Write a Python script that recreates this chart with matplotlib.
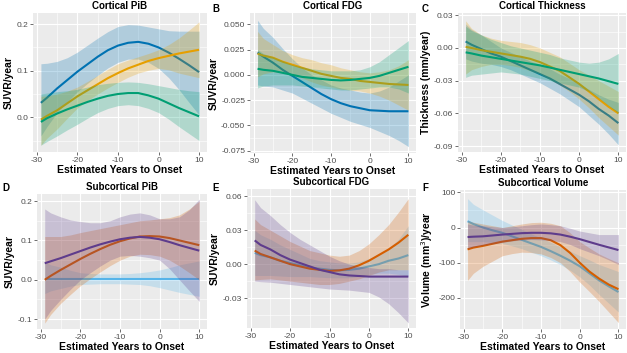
import matplotlib
matplotlib.use("Agg")
import matplotlib.pyplot as plt
from matplotlib.ticker import FixedLocator

plt.rcParams['font.family'] = ['Liberation Sans', 'DejaVu Sans']

years = [-29, -27.5, -25, -22.5, -20, -17.5, -15, -12.5, -10, -7.5, -5, -2.5, 0, 2.5, 5, 7.5, 10]

# ---- Panel A: Cortical PiB ----
a_blue = [0.031, 0.042, 0.062, 0.080, 0.098, 0.114, 0.130, 0.144, 0.154, 0.160, 0.162, 0.158, 0.150, 0.139, 0.126, 0.112, 0.097]
a_blue_hi = [0.115, 0.116, 0.120, 0.128, 0.140, 0.155, 0.170, 0.184, 0.195, 0.199, 0.198, 0.194, 0.190, 0.186, 0.185, 0.185, 0.185]
a_blue_lo = [-0.040, -0.020, 0.010, 0.033, 0.055, 0.073, 0.090, 0.106, 0.118, 0.125, 0.125, 0.118, 0.105, 0.085, 0.060, 0.032, 0.005]
a_gold = [-0.005, 0.003, 0.015, 0.030, 0.045, 0.058, 0.071, 0.084, 0.095, 0.105, 0.113, 0.121, 0.127, 0.132, 0.137, 0.141, 0.145]
a_gold_hi = [0.045, 0.046, 0.050, 0.056, 0.065, 0.077, 0.090, 0.103, 0.115, 0.123, 0.130, 0.137, 0.145, 0.156, 0.170, 0.187, 0.205]
a_gold_lo = [-0.060, -0.045, -0.025, -0.002, 0.020, 0.036, 0.050, 0.063, 0.075, 0.086, 0.095, 0.101, 0.105, 0.102, 0.095, 0.090, 0.085]
a_green = [-0.010, -0.002, 0.008, 0.017, 0.025, 0.033, 0.040, 0.046, 0.050, 0.052, 0.052, 0.047, 0.040, 0.030, 0.020, 0.011, 0.002]
a_green_hi = [0.050, 0.052, 0.055, 0.057, 0.060, 0.065, 0.070, 0.073, 0.075, 0.076, 0.075, 0.072, 0.068, 0.064, 0.060, 0.057, 0.055]
a_green_lo = [-0.060, -0.052, -0.040, -0.027, -0.015, -0.002, 0.010, 0.019, 0.025, 0.027, 0.025, 0.019, 0.010, -0.004, -0.020, -0.035, -0.050]

# ---- Panel B: Cortical FDG ----
b_blue = [0.022, 0.018, 0.012, 0.005, -0.001, -0.007, -0.013, -0.019, -0.024, -0.028, -0.031, -0.033, -0.035, -0.0355, -0.036, -0.036, -0.036]
b_blue_hi = [0.054, 0.046, 0.037, 0.026, 0.016, 0.007, 0.000, -0.005, -0.010, -0.013, -0.015, -0.017, -0.018, -0.016, -0.012, -0.006, 0.000]
b_blue_lo = [-0.010, -0.011, -0.012, -0.015, -0.018, -0.023, -0.028, -0.033, -0.038, -0.042, -0.046, -0.049, -0.052, -0.056, -0.060, -0.065, -0.071]
b_gold = [0.021, 0.019, 0.017, 0.013, 0.010, 0.007, 0.004, 0.001, -0.001, -0.003, -0.004, -0.006, -0.007, -0.008, -0.009, -0.0095, -0.010]
b_gold_hi = [0.043, 0.036, 0.030, 0.024, 0.020, 0.017, 0.015, 0.012, 0.010, 0.007, 0.005, 0.003, 0.002, 0.003, 0.005, 0.009, 0.015]
b_gold_lo = [-0.002, 0.001, 0.003, 0.002, 0.000, -0.003, -0.007, -0.010, -0.012, -0.014, -0.015, -0.016, -0.018, -0.021, -0.025, -0.030, -0.035]
b_green = [0.006, 0.005, 0.004, 0.002, 0.000, -0.002, -0.003, -0.004, -0.005, -0.0055, -0.005, -0.004, -0.003, -0.001, 0.002, 0.005, 0.008]
b_green_hi = [0.025, 0.021, 0.018, 0.014, 0.010, 0.008, 0.006, 0.005, 0.004, 0.004, 0.004, 0.005, 0.008, 0.013, 0.020, 0.027, 0.034]
b_green_lo = [-0.013, -0.011, -0.010, -0.010, -0.010, -0.011, -0.012, -0.013, -0.014, -0.015, -0.015, -0.014, -0.013, -0.012, -0.012, -0.014, -0.018]

# ---- Panel C: Cortical Thickness ----
c_blue = [0.006, 0.003, -0.001, -0.005, -0.008, -0.012, -0.016, -0.020, -0.024, -0.028, -0.033, -0.038, -0.043, -0.049, -0.056, -0.062, -0.069]
c_blue_hi = [0.022, 0.017, 0.012, 0.006, 0.000, -0.004, -0.008, -0.012, -0.015, -0.019, -0.024, -0.028, -0.033, -0.038, -0.043, -0.047, -0.050]
c_blue_lo = [-0.010, -0.012, -0.014, -0.015, -0.017, -0.020, -0.024, -0.028, -0.032, -0.037, -0.042, -0.048, -0.054, -0.062, -0.070, -0.079, -0.089]
c_gold = [0.001, 0.000, -0.002, -0.0035, -0.005, -0.0065, -0.008, -0.010, -0.013, -0.017, -0.021, -0.027, -0.033, -0.040, -0.047, -0.054, -0.060]
c_gold_hi = [0.025, 0.018, 0.012, 0.009, 0.007, 0.006, 0.005, 0.003, 0.000, -0.004, -0.008, -0.014, -0.020, -0.025, -0.030, -0.035, -0.040]
c_gold_lo = [-0.024, -0.020, -0.017, -0.015, -0.015, -0.016, -0.018, -0.021, -0.024, -0.029, -0.034, -0.040, -0.047, -0.055, -0.064, -0.072, -0.080]
c_green = [-0.004, -0.005, -0.007, -0.0085, -0.010, -0.0115, -0.013, -0.0145, -0.016, -0.018, -0.020, -0.022, -0.024, -0.026, -0.028, -0.0305, -0.033]
c_green_hi = [0.020, 0.016, 0.012, 0.008, 0.005, 0.002, 0.000, -0.002, -0.004, -0.006, -0.009, -0.011, -0.013, -0.014, -0.013, -0.010, -0.005]
c_green_lo = [-0.027, -0.025, -0.024, -0.023, -0.022, -0.023, -0.024, -0.026, -0.028, -0.030, -0.032, -0.034, -0.036, -0.040, -0.046, -0.053, -0.060]

# ---- Panel D: Subcortical PiB ----
d_blue = [0.003, 0.003, 0.003, 0.003, 0.003, 0.003, 0.003, 0.003, 0.003, 0.003, 0.003, 0.003, 0.003, 0.003, 0.003, 0.003, 0.003]
d_blue_hi = [0.045, 0.038, 0.032, 0.024, 0.018, 0.016, 0.015, 0.015, 0.015, 0.016, 0.018, 0.021, 0.025, 0.031, 0.038, 0.043, 0.048]
d_blue_lo = [-0.035, -0.028, -0.022, -0.016, -0.012, -0.011, -0.010, -0.010, -0.010, -0.011, -0.012, -0.015, -0.020, -0.026, -0.032, -0.037, -0.042]
d_orange = [0.000, 0.010, 0.025, 0.039, 0.053, 0.066, 0.078, 0.089, 0.098, 0.105, 0.110, 0.111, 0.110, 0.106, 0.100, 0.094, 0.088]
d_orange_hi = [0.110, 0.110, 0.110, 0.114, 0.120, 0.125, 0.130, 0.135, 0.140, 0.145, 0.150, 0.152, 0.155, 0.158, 0.165, 0.180, 0.200]
d_orange_lo = [-0.110, -0.088, -0.060, -0.037, -0.015, 0.003, 0.020, 0.036, 0.050, 0.060, 0.065, 0.064, 0.060, 0.050, 0.035, 0.018, 0.000]
d_purple = [0.042, 0.047, 0.055, 0.064, 0.073, 0.082, 0.090, 0.097, 0.103, 0.107, 0.109, 0.107, 0.103, 0.096, 0.088, 0.081, 0.074]
d_purple_hi = [0.180, 0.170, 0.160, 0.152, 0.148, 0.145, 0.145, 0.150, 0.160, 0.167, 0.170, 0.165, 0.155, 0.155, 0.160, 0.178, 0.205]
d_purple_lo = [-0.100, -0.078, -0.050, -0.024, 0.000, 0.018, 0.035, 0.050, 0.060, 0.062, 0.060, 0.056, 0.050, 0.028, 0.000, -0.028, -0.055]

# ---- Panel E: Subcortical FDG ----
e_blue = [0.010, 0.008, 0.006, 0.003, 0.001, -0.001, -0.003, -0.004, -0.005, -0.0055, -0.005, -0.004, -0.002, 0.000, 0.003, 0.005, 0.008]
e_blue_hi = [0.030, 0.026, 0.022, 0.017, 0.013, 0.009, 0.005, 0.003, 0.002, 0.001, 0.001, 0.002, 0.005, 0.009, 0.014, 0.022, 0.034]
e_blue_lo = [-0.010, -0.010, -0.010, -0.0105, -0.011, -0.011, -0.011, -0.0115, -0.012, -0.012, -0.012, -0.011, -0.009, -0.008, -0.008, -0.009, -0.011]
e_orange = [0.012, 0.009, 0.006, 0.003, 0.000, -0.002, -0.004, -0.005, -0.006, -0.0055, -0.004, -0.001, 0.003, 0.008, 0.013, 0.019, 0.026]
e_orange_hi = [0.040, 0.035, 0.030, 0.025, 0.020, 0.016, 0.012, 0.010, 0.008, 0.007, 0.008, 0.012, 0.018, 0.026, 0.035, 0.046, 0.058]
e_orange_lo = [-0.014, -0.0135, -0.013, -0.014, -0.015, -0.016, -0.017, -0.018, -0.018, -0.017, -0.015, -0.013, -0.010, -0.007, -0.005, -0.005, -0.005]
e_purple = [0.021, 0.017, 0.013, 0.008, 0.004, 0.001, -0.002, -0.005, -0.007, -0.009, -0.010, -0.0105, -0.011, -0.011, -0.011, -0.011, -0.011]
e_purple_hi = [0.057, 0.050, 0.043, 0.035, 0.028, 0.022, 0.017, 0.012, 0.007, 0.003, 0.000, -0.002, -0.003, -0.004, -0.004, -0.005, -0.005]
e_purple_lo = [-0.015, -0.0155, -0.016, -0.017, -0.018, -0.019, -0.020, -0.021, -0.022, -0.0225, -0.023, -0.024, -0.025, -0.029, -0.035, -0.043, -0.052]

# ---- Panel F: Subcortical Volume ----
f_blue = [18, 10, 0, -8, -15, -25, -35, -45, -55, -67, -80, -94, -110, -130, -150, -167, -183]
f_blue_hi = [82, 66, 50, 35, 20, 7, -5, -18, -30, -42, -55, -67, -80, -92, -105, -115, -125]
f_blue_lo = [-40, -40, -40, -42, -45, -52, -60, -70, -80, -92, -105, -121, -140, -163, -190, -215, -240]
f_orange = [-62, -57, -52, -46, -40, -36, -32, -30, -30, -36, -50, -72, -100, -125, -145, -162, -175]
f_orange_hi = [20, 15, 10, 5, 0, 5, 10, 14, 15, 12, 5, -15, -40, -58, -75, -88, -100]
f_orange_lo = [-150, -130, -110, -95, -80, -74, -70, -71, -75, -85, -100, -125, -155, -182, -210, -240, -270]
f_purple = [-27, -26, -25, -22.5, -20, -18, -16, -15, -15, -16.5, -20, -26, -33, -41, -49, -56.5, -64]
f_purple_hi = [10, 7, 5, 2, 0, 2, 5, 8, 10, 8, 5, -2, -10, -15, -20, -20, -20]
f_purple_lo = [-60, -55, -50, -46, -42, -38, -35, -34, -35, -37, -40, -48, -60, -70, -80, -92, -105]

titles = ["Cortical PiB", "Cortical FDG", "Cortical Thickness",
          "Subcortical PiB", "Subcortical FDG", "Subcortical Volume"]
letters = ["", "B", "C", "D", "E", "F"]
ylabels = ["SUVR/year", "SUVR/year", "Thickness (mm/year)",
           "SUVR/year", "SUVR/year", "Volume (mm$^3$)/year"]
xticks = [-30, -20, -10, 0, 10]
yticks = [
    [0.0, 0.1, 0.2],
    [-0.075, -0.050, -0.025, 0.000, 0.025, 0.050],
    [-0.09, -0.06, -0.03, 0.00, 0.03],
    [-0.1, 0.0, 0.1, 0.2],
    [-0.03, 0.00, 0.03, 0.06],
    [-200, -100, 0, 100],
]
ytick_fmt = ["{:.1f}", "{:.3f}", "{:.2f}", "{:.1f}", "{:.2f}", "{:.0f}"]

C_BLUE, C_GOLD, C_GREEN = "#0072B2", "#E69F00", "#009E73"
C_LBLUE, C_ORANGE, C_PURPLE = "#56B4E9", "#D55E00", "#5E3C8C"

series = [
    [(a_blue, a_blue_lo, a_blue_hi, C_BLUE), (a_gold, a_gold_lo, a_gold_hi, C_GOLD), (a_green, a_green_lo, a_green_hi, C_GREEN)],
    [(b_blue, b_blue_lo, b_blue_hi, C_BLUE), (b_gold, b_gold_lo, b_gold_hi, C_GOLD), (b_green, b_green_lo, b_green_hi, C_GREEN)],
    [(c_blue, c_blue_lo, c_blue_hi, C_BLUE), (c_gold, c_gold_lo, c_gold_hi, C_GOLD), (c_green, c_green_lo, c_green_hi, C_GREEN)],
    [(d_blue, d_blue_lo, d_blue_hi, C_LBLUE), (d_orange, d_orange_lo, d_orange_hi, C_ORANGE), (d_purple, d_purple_lo, d_purple_hi, C_PURPLE)],
    [(e_blue, e_blue_lo, e_blue_hi, C_LBLUE), (e_orange, e_orange_lo, e_orange_hi, C_ORANGE), (e_purple, e_purple_lo, e_purple_hi, C_PURPLE)],
    [(f_blue, f_blue_lo, f_blue_hi, C_LBLUE), (f_orange, f_orange_lo, f_orange_hi, C_ORANGE), (f_purple, f_purple_lo, f_purple_hi, C_PURPLE)],
]

W, H = 627, 353
# plot-area boxes in pixels: left, right, top, bottom
boxes = [(33, 207, 13, 152), (250, 416, 13, 153), (458, 626, 13, 152),
         (37, 207, 194, 329), (247, 416, 189, 328), (460, 626, 190, 329)]
ylims = [(-0.0746, 0.224), (-0.0773, 0.0612), (-0.0955, 0.0321),
         (-0.125, 0.218), (-0.0565, 0.0665), (-288, 106.5)]
letter_pos = [(2, 4), (212, 4), (422, 4), (2, 183), (212, 183), (422, 183)]

fig = plt.figure(figsize=(W / 100, H / 100), dpi=100)
fig.patch.set_facecolor("white")

for i in range(6):
    l, r, t, b = boxes[i]
    ax = fig.add_axes([l / W, 1 - b / H, (r - l) / W, (b - t) / H])
    ax.set_facecolor("#EBEBEB")
    for s in ax.spines.values():
        s.set_visible(False)
    z = 2
    for mid, lo, hi, col in series[i]:
        ax.fill_between(years, lo, hi, color=col, alpha=0.25, linewidth=0, zorder=z)
        ax.plot(years, mid, color=col, lw=1.5, zorder=z + 0.5, solid_capstyle="butt",
                solid_joinstyle="round")
        z += 1
    ax.set_xlim(-30.95, 11.95)
    ax.set_ylim(*ylims[i])
    ax.set_xticks(xticks)
    ax.set_xticklabels([str(v) for v in xticks])
    ax.set_yticks(yticks[i])
    ax.set_yticklabels([ytick_fmt[i].format(v) for v in yticks[i]])
    yt = yticks[i]
    step = yt[1] - yt[0]
    minors = [yt[0] - step / 2] + [v + step / 2 for v in yt]
    ax.yaxis.set_minor_locator(FixedLocator(minors))
    ax.xaxis.set_minor_locator(FixedLocator([-35, -25, -15, -5, 5, 15]))
    ax.grid(True, which="major", color="white", lw=0.8, zorder=0)
    ax.grid(True, which="minor", color="white", lw=0.4, zorder=0)
    ax.set_axisbelow(True)
    ax.tick_params(which="major", length=2, width=0.5, color="#333333",
                   labelsize=6, labelcolor="#4D4D4D", pad=1.5)
    ax.tick_params(which="minor", length=0)
    ax.set_xlabel("Estimated Years to Onset", fontsize=7.5, fontweight="bold", labelpad=1)
    ax.set_ylabel(ylabels[i], fontsize=7.5, fontweight="bold", labelpad=2)
    ax.set_title(titles[i], fontsize=7, fontweight="bold", pad=3)
    if letters[i]:
        fig.text(letter_pos[i][0] / W, 1 - letter_pos[i][1] / H, letters[i],
                 fontsize=7, fontweight="bold", va="top", ha="left")

fig.savefig("out.png", dpi=100, facecolor="white")
